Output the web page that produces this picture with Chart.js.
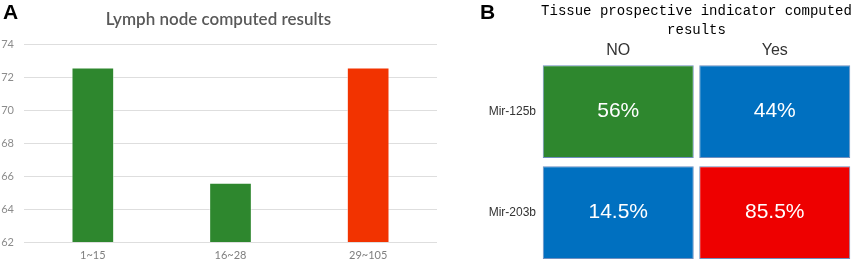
<!DOCTYPE html>
<html>
<head>
<meta charset="utf-8">
<script src="https://cdn.jsdelivr.net/npm/chart.js@4.4.1/dist/chart.umd.min.js"></script>
<style>
    body { margin: 0; background: #fff; width: 858px; height: 263px; overflow: hidden; position: relative; }
    canvas { position: absolute; top: 0; }
    #lymphChart { left: 0; }
    #tissueChart { left: 440px; }
    .tag { position: absolute; top: 0; font: bold 21px "Liberation Sans", Arial, sans-serif; color: #000; }
</style>
</head>
<body>
<canvas id="lymphChart" width="440" height="263"></canvas>
<canvas id="tissueChart" width="418" height="263"></canvas>
<div class="tag" style="left:3px;">A</div>
<div class="tag" style="left:480px;">B</div>

<script>
// Panel A data
const lymphGroups = ['1~15', '16~28', '29~105'];
const lymphValues = [72.6, 65.6, 72.6];
const lymphColors = ['#2e872e', '#2e872e', '#f23300'];

// Panel B data
const tissueCols = ['NO', 'Yes'];
const tissueRows = ['Mir-125b', 'Mir-203b'];
const tissueValues = [[56, 44], [14.5, 85.5]];
const tissueColors = [['#2e872e', '#0070c0'], ['#0070c0', '#ee0000']];

const CELL_PAD = 0.04;

// drop the half-label overflow padding chart.js reserves around axes
function noEdgePad(scale) {
    scale.paddingTop = 0;
    scale.paddingBottom = 0;
    scale.paddingLeft = 0;
    scale.paddingRight = 0;
}

// Lymph node bar chart
new Chart(document.getElementById('lymphChart'), {
    type: 'bar',
    data: {
        labels: lymphGroups,
        datasets: [{
            data: lymphValues,
            backgroundColor: lymphColors,
            borderColor: 'rgba(255,255,255,0.5)',
            borderWidth: 1,
            barPercentage: 0.31,
            categoryPercentage: 1
        }]
    },
    options: {
        responsive: false,
        animation: false,
        layout: { padding: { top: 0, right: 3, bottom: 0, left: 0 } },
        plugins: {
            legend: { display: false },
            tooltip: { enabled: false },
            title: {
                display: true,
                text: 'Lymph node computed results',
                color: '#595959',
                font: { family: 'Lato', size: 17, weight: '600' },
                padding: { top: 9, bottom: 15 }
            }
        },
        scales: {
            x: {
                grid: { display: false, drawTicks: false },
                border: { display: false },
                ticks: { color: '#7f7f7f', font: { family: 'Lato', size: 11 }, padding: 7 },
                afterFit: function(scale) { noEdgePad(scale); scale.height = 21; }
            },
            y: {
                min: 62,
                max: 74,
                ticks: { stepSize: 2, color: '#8c8c8c', font: { family: 'Lato', size: 11 }, padding: 10 },
                grid: { color: '#dedede', drawTicks: false },
                border: { display: false },
                afterFit: function(scale) { noEdgePad(scale); scale.width = 24; }
            }
        }
    }
});

// Percent labels in heatmap cells
const cellLabels = {
    id: 'cellLabels',
    afterDatasetsDraw(chart) {
        const ctx = chart.ctx;
        ctx.save();
        ctx.fillStyle = '#ffffff';
        ctx.font = '21px "Liberation Sans", Arial, sans-serif';
        ctx.textAlign = 'center';
        ctx.textBaseline = 'middle';
        chart.data.datasets.forEach((ds, r) => {
            chart.getDatasetMeta(r).data.forEach((bar, c) => {
                ctx.fillText(tissueValues[r][c] + '%', bar.x, (bar.y + bar.base) / 2);
            });
        });
        ctx.restore();
    }
};

// Tissue indicator heatmap (floating bars on a 2x2 grid)
new Chart(document.getElementById('tissueChart'), {
    type: 'bar',
    data: {
        labels: tissueCols,
        datasets: tissueRows.map((row, r) => ({
            label: row,
            data: tissueCols.map(() => [r + CELL_PAD, r + 1 - CELL_PAD]),
            backgroundColor: tissueColors[r],
            borderColor: '#6f8fbf',
            borderWidth: 1,
            borderSkipped: false,
            grouped: false,
            barPercentage: 0.965,
            categoryPercentage: 1
        }))
    },
    options: {
        responsive: false,
        animation: false,
        layout: { padding: { top: 0, right: 5, bottom: 0, left: 0 } },
        plugins: {
            legend: { display: false },
            tooltip: { enabled: false },
            title: {
                display: true,
                fullSize: false,
                text: ['Tissue prospective indicator computed', 'results'],
                color: '#000',
                font: { family: 'Liberation Mono', size: 14, weight: 'normal', lineHeight: 1.4 },
                padding: { top: 1, bottom: 0 }
            }
        },
        scales: {
            x: {
                position: 'top',
                grid: { display: false, drawTicks: false },
                border: { display: false },
                ticks: { color: '#333', font: { family: 'Liberation Sans', size: 16 }, padding: 1 },
                afterFit: function(scale) { noEdgePad(scale); scale.height = 21; }
            },
            y: {
                min: 0,
                max: 2,
                reverse: true,
                grid: { display: false, drawTicks: false },
                border: { display: false },
                afterBuildTicks: function(scale) {
                    scale.ticks = tissueRows.map((row, i) => ({ value: i + 0.5 }));
                },
                ticks: {
                    color: '#333',
                    font: { family: 'Liberation Sans', size: 12 },
                    padding: 4,
                    callback: function(value) { return tissueRows[Math.floor(value)]; }
                },
                afterFit: function(scale) { noEdgePad(scale); scale.width = 100; }
            }
        }
    },
    plugins: [cellLabels]
});
</script>
</body>
</html>
